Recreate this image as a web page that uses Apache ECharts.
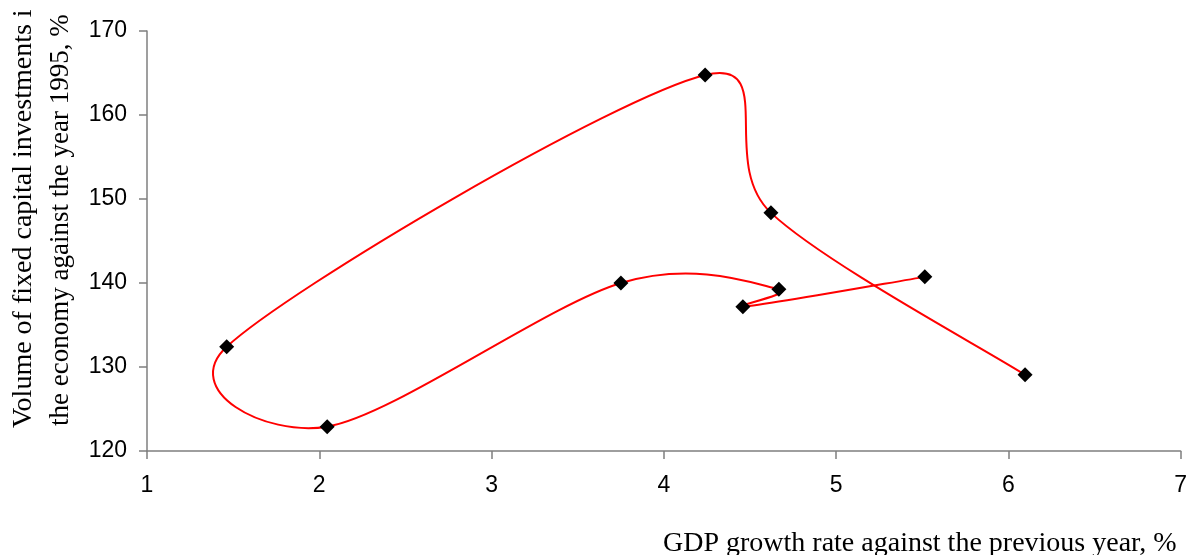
<!DOCTYPE html>
<html>
<head>
<meta charset="utf-8">
<script src="https://cdn.jsdelivr.net/npm/echarts@6/dist/echarts.min.js"></script>
<style>
html,body{margin:0;padding:0;background:#fff;}
#chart{width:1190px;height:555px;}
</style>
</head>
<body>
<div id="chart"></div>
<script>
// Data (points joined in this order)
const gdpGrowth = [6.097, 4.622, 4.240, 1.4625, 2.046, 3.751, 4.668, 4.459, 5.515];
const investment = [129.07, 148.35, 164.76, 132.4, 122.9, 140.0, 139.27, 137.16, 140.73];
const xTicks = [1, 2, 3, 4, 5, 6, 7];
const yTicks = [120, 130, 140, 150, 160, 170];
const xTitle = 'GDP growth rate against the previous year, %';
const yTitleLine1 = 'Volume of fixed capital investments i';
const yTitleLine2 = 'the economy against the year 1995, %';

const points = gdpGrowth.map((x, i) => [x, investment[i]]);
const n = points.length;

const chart = echarts.init(document.getElementById('chart'), null, {renderer: 'canvas'});
const axisColor = '#7f7f7f';
const labelFont = {color: '#000', fontFamily: '"Liberation Sans", Arial, sans-serif', fontSize: 23};
const serif = '"Liberation Serif", "Times New Roman", serif';

// Excel-style smoothed segment between point i and i+1 (control legs limited by segment length)
function ctrl(p0, p1, p2, segLen) {
  const dx = p2[0] - p0[0], dy = p2[1] - p0[1];
  const d = Math.hypot(dx, dy);
  if (d === 0) return [0, 0];
  let f = 1 / 6;
  if (d / 6 >= segLen / 2) f = segLen / (2 * d);
  return [dx * f, dy * f];
}

function renderSegment(params, api) {
  const i = params.dataIndex;
  if (i >= n - 1) return null;
  const c = j => {
    const k = Math.max(0, Math.min(n - 1, j));
    return api.coord([gdpGrowth[k], investment[k]]);
  };
  const p0 = c(i - 1), p1 = c(i), p2 = c(i + 1), p3 = c(i + 2);
  const seg = Math.hypot(p2[0] - p1[0], p2[1] - p1[1]);
  const a = ctrl(p0, p1, p2, seg);
  const b = ctrl(p1, p2, p3, seg);
  return {
    type: 'bezierCurve',
    shape: {
      x1: p1[0], y1: p1[1],
      x2: p2[0], y2: p2[1],
      cpx1: p1[0] + a[0], cpy1: p1[1] + a[1],
      cpx2: p2[0] - b[0], cpy2: p2[1] - b[1]
    },
    style: {stroke: '#ff0000', lineWidth: 2, fill: null}
  };
}

chart.setOption({
  animation: false,
  backgroundColor: '#fff',
  grid: {left: 147, right: 9, top: 31, bottom: 104, containLabel: false},
  xAxis: {
    type: 'value', min: xTicks[0], max: xTicks[xTicks.length - 1], interval: 1,
    axisLine: {show: true, onZero: false, lineStyle: {color: axisColor, width: 1.5}},
    axisTick: {show: true, inside: false, length: 8, lineStyle: {color: axisColor, width: 1.5}},
    axisLabel: Object.assign({margin: 23}, labelFont),
    splitLine: {show: false}
  },
  yAxis: {
    type: 'value', min: yTicks[0], max: yTicks[yTicks.length - 1], interval: 10,
    axisLine: {show: true, onZero: false, lineStyle: {color: axisColor, width: 1.5}},
    axisTick: {show: true, inside: false, length: 8, lineStyle: {color: axisColor, width: 1.5}},
    axisLabel: Object.assign({margin: 20}, labelFont),
    splitLine: {show: false}
  },
  series: [
    {
      type: 'custom',
      renderItem: renderSegment,
      data: points,
      encode: {x: 0, y: 1},
      clip: false,
      silent: true,
      z: 2
    },
    {
      type: 'scatter',
      data: points,
      symbol: 'diamond',
      symbolSize: 15,
      itemStyle: {color: '#000', opacity: 1},
      emphasis: {disabled: true},
      z: 3
    }
  ],
  graphic: [
    {
      type: 'text', x: 663, y: 530,
      style: {text: xTitle, fontFamily: serif, fontSize: 28, fill: '#000', align: 'left', verticalAlign: 'top'}
    },
    {
      type: 'text', x: 24, y: 428, rotation: Math.PI / 2,
      style: {text: yTitleLine1, fontFamily: serif, fontSize: 28, fill: '#000', align: 'left', verticalAlign: 'middle'}
    },
    {
      type: 'text', x: 61, y: 426, rotation: Math.PI / 2,
      style: {text: yTitleLine2, fontFamily: serif, fontSize: 27, fill: '#000', align: 'left', verticalAlign: 'middle'}
    }
  ]
});
</script>
</body>
</html>
